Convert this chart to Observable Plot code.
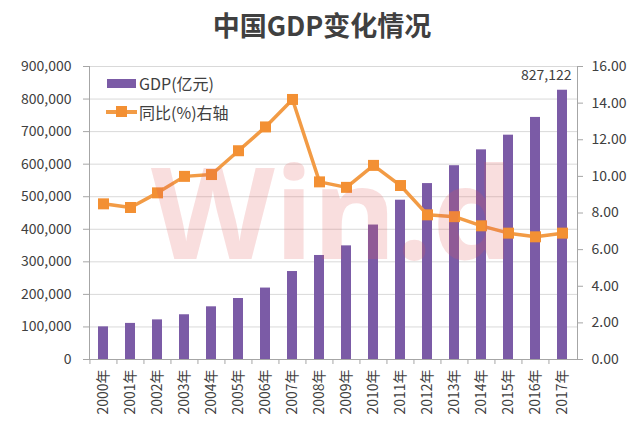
<!DOCTYPE html>
<html>
<head>
<meta charset="utf-8">
<script src="https://cdn.jsdelivr.net/npm/d3@7"></script>
<script src="https://cdn.jsdelivr.net/npm/@observablehq/plot@0.6"></script>
<style>
  html, body { margin: 0; padding: 0; background: #fff; }
  body { width: 644px; height: 423px; position: relative; overflow: hidden; font-family: "Noto Sans CJK SC", "Noto Sans", sans-serif; }
  #title { height: 50px; line-height: 50px; text-align: center; font-size: 27px; font-weight: bold; color: #404040; }
  .leg { position: absolute; font-size: 16px; color: #404040; display: flex; align-items: center; height: 20px; }
  .sw { display: inline-block; width: 29px; height: 9px; background: #7b5ba6; margin-right: 3px; }
  .ln { position: relative; display: inline-block; width: 31px; height: 4px; background: #f29b45; margin-right: 2px; }
  .ln::after { content: ""; position: absolute; left: 10px; top: -4px; width: 11px; height: 11px; background: #f39033; }
  #wm { position: absolute; left: 151px; top: 162px; font-family: "Noto Sans", sans-serif; font-weight: bold; font-size: 128px; letter-spacing: 0px; color: rgba(225, 90, 90, 0.2); pointer-events: none; line-height: 96px; height: 96px; }
</style>
</head>
<body>
<div id="title">中国GDP变化情况</div>
<div id="chart"></div>
<div class="leg" style="left:107px; top:73px;"><span class="sw"></span>GDP(亿元)</div>
<div class="leg" style="left:106px; top:102px;"><span class="ln"></span>同比(%)右轴</div>
<div id="wm">Win.d</div>
<script>
const years = ["2000年","2001年","2002年","2003年","2004年","2005年","2006年","2007年","2008年","2009年","2010年","2011年","2012年","2013年","2014年","2015年","2016年","2017年"];
const gdp = [100280,110863,121717,137422,161840,187319,219439,270232,319516,349081,413030,489301,540367,595244,643974,689052,743586,827122];
const growth = [8.5,8.3,9.1,10.0,10.1,11.4,12.7,14.2,9.7,9.4,10.6,9.5,7.9,7.8,7.3,6.9,6.7,6.9];
const leftTicks = [0,100000,200000,300000,400000,500000,600000,700000,800000,900000];
const rightTicks = [0,2,4,6,8,10,12,14,16];

const leftMax = 900000, rightMax = 16;
const k = leftMax / rightMax;
const data = years.map((y, i) => ({year: y, gdp: gdp[i], growth: growth[i], g2: growth[i] * k}));

const W = 644, mL = 89, mR = 67;
const bw = (W - mL - mR) / years.length;

const purple = "#7b5ba6", orange = "#f29b45", axisC = "#a6a6a6", gridC = "#d9d9d9", textC = "#404040";

const chart = Plot.plot({
  width: W,
  height: 373,
  marginTop: 16,
  marginBottom: 64,
  marginLeft: mL,
  marginRight: mR,
  style: {fontFamily: "'Noto Sans CJK SC', 'Noto Sans', sans-serif", fontSize: "14px", color: textC, background: "transparent"},
  x: {type: "band", domain: years, paddingInner: 0.62, paddingOuter: 0.31, align: 0.5, label: null},
  y: {domain: [0, leftMax], label: null},
  marks: [
    Plot.gridY(leftTicks, {stroke: gridC, strokeOpacity: 1}),
    Plot.barY(data, {x: "year", y: "gdp", fill: purple}),
    Plot.line(data, {x: "year", y: "g2", stroke: orange, strokeWidth: 3.5}),
    Plot.dot(data, {x: "year", y: "g2", symbol: "square", r: 6.2, fill: "#f39033", stroke: null}),
    Plot.text(data.filter(d => d.year === "2017年"), {x: "year", y: "gdp", text: d => d3.format(",")(d.gdp), textAnchor: "end", dx: 9, dy: -15, fill: textC, fontSize: 14}),
    Plot.ruleY([0], {stroke: axisC}),
    Plot.frame({anchor: "left", stroke: axisC}),
    Plot.frame({anchor: "right", stroke: axisC}),
    Plot.axisY(leftTicks, {anchor: "left", label: null, tickSize: 6, tickPadding: 12, stroke: axisC, fill: textC, tickFormat: d => d3.format(",")(d), fontSize: 14}),
    Plot.axisY(rightTicks.map(v => v * k), {anchor: "right", label: null, tickSize: 5, tickPadding: 9, stroke: axisC, fill: textC, tickFormat: d => (d / k).toFixed(2), fontSize: 14}),
    Plot.axisX({anchor: "bottom", label: null, tickSize: 5, text: null, dx: -bw / 2, stroke: axisC}),
    Plot.axisX({anchor: "bottom", label: null, tickSize: 0, tickPadding: 10, tickRotate: -90, fill: textC, fontSize: 14, stroke: null})
  ]
});
document.getElementById("chart").appendChild(chart);
</script>
</body>
</html>
